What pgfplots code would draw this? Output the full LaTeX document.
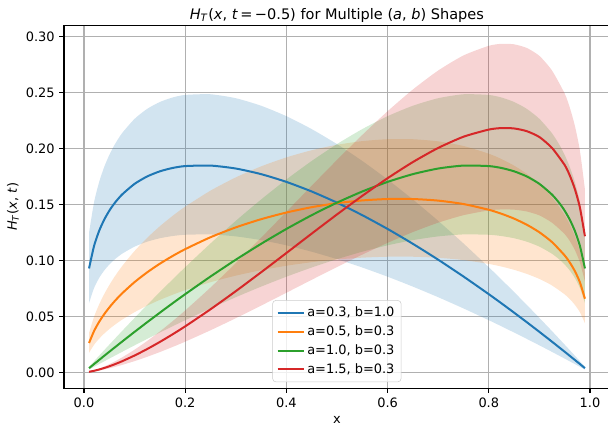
\documentclass[border=0pt]{standalone}
\usepackage{fontspec}
\setmainfont{DejaVu Sans}
\usepackage{pgfplots}
\usepackage{pgfplotstable}
\pgfplotsset{compat=1.18}
\usepgfplotslibrary{fillbetween}

\definecolor{tabblue}{HTML}{1F77B4}
\definecolor{taborange}{HTML}{FF7F0E}
\definecolor{tabgreen}{HTML}{2CA02C}
\definecolor{tabred}{HTML}{D62728}
\definecolor{gridgray}{HTML}{B0B0B0}
\definecolor{legendgray}{HTML}{CCCCCC}

% a=0.3, b=1.0 : curve, lower and upper edge of the band
\pgfplotstableread{
x     y       lo      hi
0.01  0.09295 0.06200 0.12502
0.02  0.11327 0.07555 0.15235
0.03  0.12662 0.08446 0.17030
0.04  0.13661 0.09112 0.18374
0.05  0.14454 0.09641 0.19441
0.06  0.15106 0.10076 0.20318
0.075 0.15894 0.10601 0.21377
0.1   0.16859 0.11245 0.22675
0.125 0.17525 0.11689 0.23571
0.15  0.17981 0.11993 0.24184
0.175 0.18279 0.12192 0.24585
0.2   0.18449 0.12305 0.24814
0.25  0.18494 0.12336 0.24874
0.3   0.18231 0.12160 0.24521
0.35  0.17730 0.11826 0.23847
0.4   0.17035 0.11362 0.22912
0.45  0.16177 0.10790 0.21758
0.5   0.15179 0.10124 0.20416
0.55  0.14057 0.09376 0.18907
0.6   0.12826 0.08555 0.17251
0.65  0.11495 0.07667 0.15461
0.7   0.10075 0.06720 0.13551
0.75  0.08571 0.05717 0.11528
0.8   0.06991 0.04663 0.09403
0.825 0.06174 0.04118 0.08304
0.85  0.05339 0.03561 0.07181
0.875 0.04488 0.02994 0.06037
0.9   0.03621 0.02415 0.04870
0.925 0.02738 0.01826 0.03683
0.95  0.01840 0.01227 0.02475
0.96  0.01477 0.00985 0.01986
0.97  0.01111 0.00741 0.01494
0.98  0.00743 0.00496 0.00999
0.99  0.00373 0.00249 0.00502
}\blueT

% a=0.5, b=0.3
\pgfplotstableread{
x     y        lo       hi
0.01  0.026268 0.017521 0.035330
0.02  0.037036 0.024703 0.049813
0.03  0.045221 0.030162 0.060822
0.04  0.052054 0.034720 0.070013
0.05  0.058017 0.038697 0.078033
0.06  0.063352 0.042256 0.085208
0.075 0.070488 0.047015 0.094806
0.1   0.080727 0.053845 0.108578
0.125 0.089494 0.059692 0.120369
0.15  0.097189 0.064825 0.130719
0.175 0.104040 0.069395 0.139934
0.2   0.110200 0.073503 0.148219
0.25  0.120847 0.080605 0.162539
0.3   0.129668 0.086489 0.174403
0.35  0.136979 0.091365 0.184237
0.4   0.142960 0.095354 0.192281
0.45  0.147727 0.098534 0.198693
0.5   0.151328 0.100936 0.203536
0.55  0.153776 0.102569 0.206829
0.6   0.155038 0.103410 0.208526
0.65  0.155030 0.103405 0.208515
0.7   0.153615 0.102461 0.206612
0.75  0.150541 0.100411 0.202478
0.8   0.145411 0.096989 0.195578
0.825 0.141867 0.094625 0.190811
0.85  0.137488 0.091705 0.184921
0.875 0.132075 0.088094 0.177641
0.9   0.125276 0.083559 0.168496
0.925 0.116499 0.077705 0.156691
0.95  0.104543 0.069730 0.140610
0.96  0.098288 0.065558 0.132197
0.97  0.090628 0.060449 0.121895
0.98  0.080658 0.053799 0.108485
0.99  0.065851 0.043923 0.088570
}\orangeT

% a=1.0, b=0.3
\pgfplotstableread{
x     y       lo      hi
0.01  0.00373 0.00249 0.00502
0.02  0.00743 0.00496 0.00999
0.03  0.01111 0.00741 0.01494
0.04  0.01477 0.00985 0.01986
0.05  0.01840 0.01227 0.02475
0.075 0.02738 0.01826 0.03683
0.1   0.03621 0.02415 0.04870
0.125 0.04488 0.02994 0.06037
0.15  0.05339 0.03561 0.07181
0.175 0.06174 0.04118 0.08304
0.2   0.06991 0.04663 0.09403
0.25  0.08571 0.05717 0.11528
0.3   0.10075 0.06720 0.13551
0.35  0.11495 0.07667 0.15461
0.4   0.12826 0.08555 0.17251
0.45  0.14057 0.09376 0.18907
0.5   0.15179 0.10124 0.20416
0.55  0.16177 0.10790 0.21758
0.6   0.17035 0.11362 0.22912
0.65  0.17730 0.11826 0.23847
0.7   0.18231 0.12160 0.24521
0.75  0.18494 0.12336 0.24874
0.8   0.18449 0.12305 0.24814
0.825 0.18279 0.12192 0.24585
0.85  0.17981 0.11993 0.24184
0.875 0.17525 0.11689 0.23571
0.9   0.16859 0.11245 0.22675
0.925 0.15894 0.10601 0.21377
0.94  0.15106 0.10076 0.20318
0.95  0.14454 0.09641 0.19441
0.96  0.13661 0.09112 0.18374
0.97  0.12662 0.08446 0.17030
0.98  0.11327 0.07555 0.15235
0.99  0.09295 0.06200 0.12502
}\greenT

% a=1.5, b=0.3
\pgfplotstableread{
x     y        lo       hi
0.01  0.000490 0.000327 0.000659
0.02  0.001383 0.000922 0.001860
0.03  0.002532 0.001689 0.003406
0.04  0.003887 0.002593 0.005228
0.05  0.005415 0.003612 0.007283
0.06  0.007096 0.004733 0.009544
0.075 0.009869 0.006583 0.013274
0.1   0.015069 0.010051 0.020268
0.125 0.020883 0.013929 0.028088
0.15  0.027214 0.018152 0.036603
0.175 0.033987 0.022669 0.045713
0.2   0.041142 0.027442 0.055336
0.25  0.056396 0.037616 0.075853
0.3   0.072616 0.048435 0.097669
0.35  0.089494 0.059692 0.120369
0.4   0.106745 0.071199 0.143572
0.45  0.124092 0.082769 0.166904
0.5   0.141242 0.094208 0.189970
0.55  0.157879 0.105305 0.212347
0.6   0.173645 0.115821 0.233553
0.65  0.188107 0.125467 0.253004
0.7   0.200726 0.133884 0.269976
0.75  0.210760 0.140577 0.283472
0.8   0.217149 0.144838 0.292065
0.825 0.218478 0.145725 0.293853
0.85  0.218153 0.145508 0.293416
0.875 0.215726 0.143889 0.290151
0.9   0.210467 0.140381 0.283078
0.925 0.200669 0.133846 0.269900
0.95  0.185393 0.123657 0.249354
0.96  0.176133 0.117481 0.236899
0.97  0.164102 0.109456 0.220717
0.98  0.147554 0.098419 0.198460
0.99  0.121695 0.081171 0.163680
}\redT

\newcommand{\fs}{\fontsize{9.7}{11.6}\selectfont}

\begin{document}
\begin{tikzpicture}
\begin{axis}[
    at={(0,0)}, anchor=south west,
    width=409.3pt, height=272.25pt, scale only axis,
    set layers,
    xmin=-0.0395, xmax=1.039,
    ymin=-0.0143, ymax=0.3104,
    xtick={0,0.2,0.4,0.6,0.8,1.0},
    ytick={0,0.05,0.10,0.15,0.20,0.25,0.30},
    x tick label style={/pgf/number format/.cd, fixed, fixed zerofill, precision=1, /tikz/.cd},
    y tick label style={/pgf/number format/.cd, fixed, fixed zerofill, precision=2, /tikz/.cd},
    /pgf/number format/assume math mode=true,
    tick label style={font=\fs},
    label style={font=\fs},
    grid=major,
    grid style={gridgray, line width=0.8pt},
    tick align=outside, tick pos=left,
    major tick length=3.5pt,
    every tick/.style={black, line width=0.8pt},
    axis line style={line width=0.8pt},
    title={\textit{H}\textsubscript{\textit{T}}(\textit{x}, \textit{t}\,=\,−0.5) for Multiple (\textit{a}, \textit{b}) Shapes},
    title style={font=\fontsize{10.9}{13}\selectfont, anchor=base, yshift=-1.5pt},
    xlabel={x},
    xlabel style={at={(axis description cs:0.5,-0.0874)}, anchor=center},
    ylabel={\textit{H}\textsubscript{\textit{T}}(\textit{x}, \textit{t})},
    ylabel style={at={(axis description cs:-0.0935,0.5)}, anchor=center},
    legend cell align=left,
    legend image code/.code={\draw[#1, line width=1.5pt] (0pt,0pt) -- (19.5pt,0pt);},
    legend style={at={(0.5,0.017)}, anchor=south, font=\fs,
        draw=legendgray, rounded corners=2.5pt, fill=white, fill opacity=0.8, text opacity=1,
        row sep=1.2pt, inner xsep=3pt, inner ysep=3pt},
]
% band edges
\addplot[draw=none, smooth, tension=0.4, forget plot, name path=bh] table[x=x, y=hi] {\blueT};
\addplot[draw=none, smooth, tension=0.4, forget plot, name path=bl] table[x=x, y=lo] {\blueT};
\addplot[draw=none, smooth, tension=0.4, forget plot, name path=oh] table[x=x, y=hi] {\orangeT};
\addplot[draw=none, smooth, tension=0.4, forget plot, name path=ol] table[x=x, y=lo] {\orangeT};
\addplot[draw=none, smooth, tension=0.4, forget plot, name path=gh] table[x=x, y=hi] {\greenT};
\addplot[draw=none, smooth, tension=0.4, forget plot, name path=gl] table[x=x, y=lo] {\greenT};
\addplot[draw=none, smooth, tension=0.4, forget plot, name path=rh] table[x=x, y=hi] {\redT};
\addplot[draw=none, smooth, tension=0.4, forget plot, name path=rl] table[x=x, y=lo] {\redT};

% shaded bands, under the grid
\addplot[fill=tabblue, fill opacity=0.2, draw=none, forget plot, on layer=axis background] fill between[of=bh and bl];
\addplot[fill=taborange, fill opacity=0.2, draw=none, forget plot, on layer=axis background] fill between[of=oh and ol];
\addplot[fill=tabgreen, fill opacity=0.2, draw=none, forget plot, on layer=axis background] fill between[of=gh and gl];
\addplot[fill=tabred, fill opacity=0.2, draw=none, forget plot, on layer=axis background] fill between[of=rh and rl];

% curves
\addplot[tabblue, smooth, tension=0.4, line width=1.5pt] table[x=x, y=y] {\blueT};
\addlegendentry{a=0.3, b=1.0}
\addplot[taborange, smooth, tension=0.4, line width=1.5pt] table[x=x, y=y] {\orangeT};
\addlegendentry{a=0.5, b=0.3}
\addplot[tabgreen, smooth, tension=0.4, line width=1.5pt] table[x=x, y=y] {\greenT};
\addlegendentry{a=1.0, b=0.3}
\addplot[tabred, smooth, tension=0.4, line width=1.5pt] table[x=x, y=y] {\redT};
\addlegendentry{a=1.5, b=0.3}
\end{axis}
\pgfresetboundingbox
\path[use as bounding box] (-48pt,-32pt) rectangle (408pt,291.25pt);
\end{tikzpicture}
\end{document}
